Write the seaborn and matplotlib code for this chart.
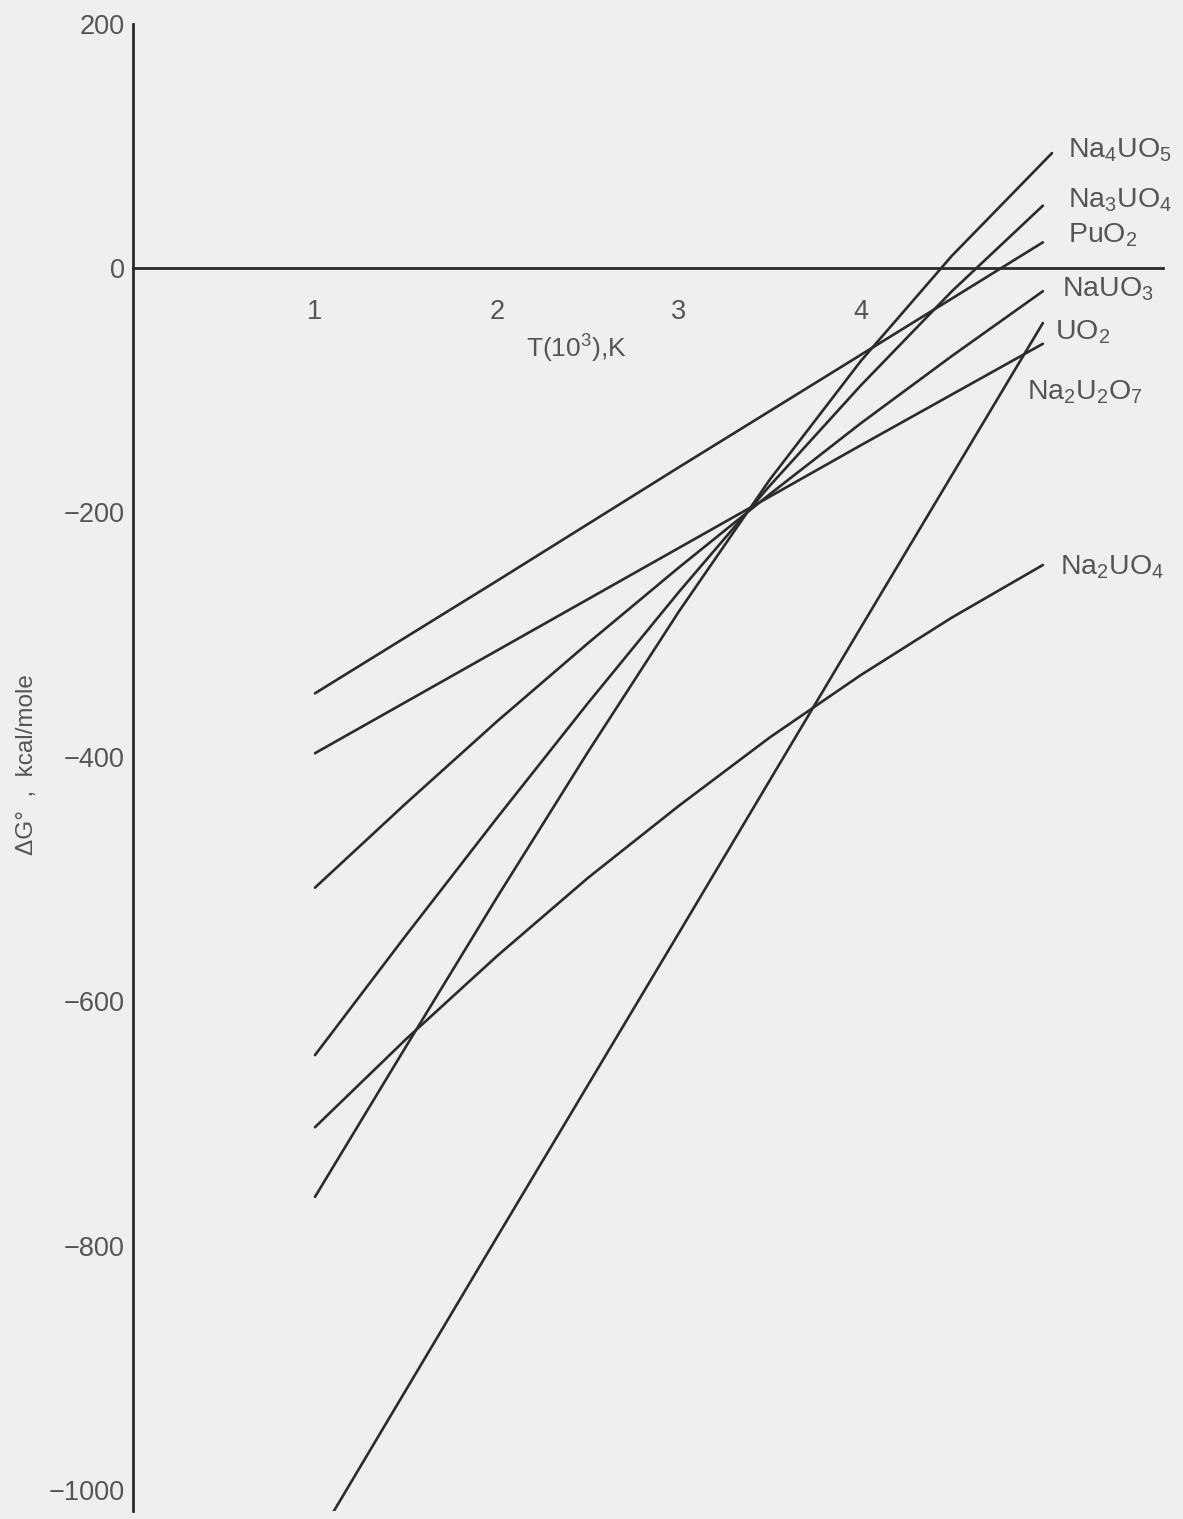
import matplotlib
matplotlib.use('Agg')
import matplotlib.pyplot as plt
import seaborn as sns
import pandas as pd
import numpy as np

# ---- data (T in 10^3 K, dG in kcal/mole) ----
T_PuO2 = [1.0, 2.0, 3.0, 4.0, 5.0]
G_PuO2 = [-348, -256, -163, -71, 21]

T_Na2U2O7 = [1.0, 2.0, 3.0, 4.0, 5.0]
G_Na2U2O7 = [-397, -313, -229, -145, -62]

T_NaUO3 = [1.0, 1.5, 2.0, 2.5, 3.0, 3.5, 4.0, 4.5, 5.0]
G_NaUO3 = [-507, -438, -371, -307, -245, -185, -127, -72, -19]

T_Na3UO4 = [1.0, 1.5, 2.0, 2.5, 3.0, 3.5, 4.0, 4.5, 5.0]
G_Na3UO4 = [-644, -546, -450, -356, -265, -178, -96, -19, 51]

T_Na4UO5 = [1.0, 1.5, 2.0, 2.5, 3.0, 3.5, 4.0, 4.5, 5.05]
G_Na4UO5 = [-760, -637, -515, -396, -281, -173, -76, 10, 94]

T_UO2 = [1.1, 2.0, 3.0, 4.0, 5.0]
G_UO2 = [-1018, -793, -544, -294, -45]

T_Na2UO4 = [1.0, 1.5, 2.0, 2.5, 3.0, 3.5, 4.0, 4.5, 5.0]
G_Na2UO4 = [-703, -631, -563, -499, -440, -384, -333, -286, -243]

compounds = ['PuO2', 'Na2U2O7', 'NaUO3', 'Na3UO4', 'Na4UO5', 'UO2', 'Na2UO4']
series_T = [T_PuO2, T_Na2U2O7, T_NaUO3, T_Na3UO4, T_Na4UO5, T_UO2, T_Na2UO4]
series_G = [G_PuO2, G_Na2U2O7, G_NaUO3, G_Na3UO4, G_Na4UO5, G_UO2, G_Na2UO4]

label_text = {
    'Na4UO5': 'Na$_4$UO$_5$',
    'Na3UO4': 'Na$_3$UO$_4$',
    'PuO2': 'PuO$_2$',
    'NaUO3': 'NaUO$_3$',
    'UO2': 'UO$_2$',
    'Na2U2O7': 'Na$_2$U$_2$O$_7$',
    'Na2UO4': 'Na$_2$UO$_4$',
}
label_pos = {
    'Na4UO5': (5.137, 90.8),
    'Na3UO4': (5.137, 49.9),
    'PuO2': (5.137, 20.5),
    'NaUO3': (5.104, -23.7),
    'UO2': (5.066, -58.9),
    'Na2U2O7': (4.912, -108.0),
    'Na2UO4': (5.093, -251.0),
}

y_ticks = list(range(-1000, 201, 100))
x_ticks = [1, 2, 3, 4, 5]
x_ticklabels = ['1', '2', '3', '4', '']

# ---- style ----
sns.set_theme(style='white')
plt.rcParams['font.family'] = ['Liberation Sans', 'DejaVu Sans']
plt.rcParams['mathtext.fontset'] = 'custom'
plt.rcParams['mathtext.rm'] = 'Liberation Sans'
plt.rcParams['mathtext.it'] = 'Liberation Sans:italic'
plt.rcParams['mathtext.bf'] = 'Liberation Sans:bold'
plt.rcParams['axes.unicode_minus'] = True

BG = '#efefef'
INK = '#2b2b2b'
TXT = '#555555'

fig = plt.figure(figsize=(11.83, 15.19), dpi=100, facecolor=BG)
ax = fig.add_axes([0.11243, 0.00527, 0.87066, 0.97923])
ax.set_facecolor(BG)

frames = []
for name, T, G in zip(compounds, series_T, series_G):
    frames.append(pd.DataFrame({'T': T, 'dG': G, 'compound': name}))
df = pd.concat(frames, ignore_index=True)

sns.lineplot(data=df, x='T', y='dG', units='compound', estimator=None,
             color=INK, linewidth=1.9, ax=ax, legend=False)

ax.set_xlim(0, 5.66)
ax.set_ylim(-1017, 200)

for s in ['top', 'right']:
    ax.spines[s].set_visible(False)
ax.spines['left'].set_position(('data', 0))
ax.spines['bottom'].set_position(('data', 0))
for s in ['left', 'bottom']:
    ax.spines[s].set_color(INK)
    ax.spines[s].set_linewidth(2.0)

ax.set_yticks(y_ticks)
ax.set_yticklabels([('\u2212' + str(abs(v)) if v < 0 else str(v)) if v % 200 == 0 else ''
                    for v in y_ticks])
ax.set_xticks(x_ticks)
ax.set_xticklabels(x_ticklabels)
ax.tick_params(axis='y', direction='in', length=16, width=2, pad=6,
               labelsize=19.5, color=INK, labelcolor=TXT)
ax.tick_params(axis='x', direction='inout', length=32, width=2, pad=6,
               labelsize=19.5, color=INK, labelcolor=TXT)
ax.set_xlabel('')
ax.set_ylabel('')

ax.text(2.434, -73.6, 'T(10$^3$),K', ha='center', va='baseline',
        fontsize=19, color=TXT)
fig.text(27 / 1183, 1 - 765 / 1519, '\u0394G\u00b0  ,  kcal/mole', rotation=90,
         ha='center', va='center', fontsize=17.5, color=TXT)

for name in compounds:
    x, y = label_pos[name]
    ax.text(x, y, label_text[name], ha='left', va='baseline', fontsize=20.5,
            color=TXT, clip_on=False)

fig.savefig('out.png', dpi=100, facecolor=BG)
